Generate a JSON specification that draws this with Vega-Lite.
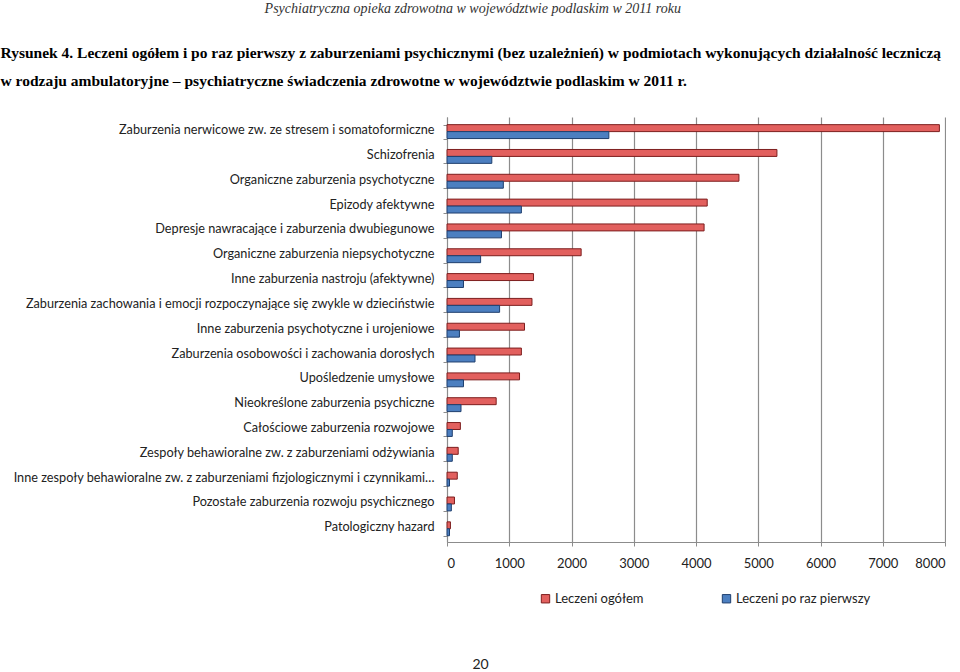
{
  "$schema": "https://vega.github.io/schema/vega-lite/v6.json",
  "width": 498,
  "height": 425,
  "padding": {"left": 0, "top": 2, "right": 0, "bottom": 0},
  "background": "white",
  "title": {
    "text": "Psychiatryczna opieka zdrowotna w województwie podlaskim w 2011 roku",
    "font": "Liberation Serif",
    "fontStyle": "italic",
    "fontWeight": "normal",
    "fontSize": 14,
    "color": "#333333",
    "anchor": "middle",
    "frame": "bounds",
    "offset": 29
  },
  "data": {
    "values": [
      {"cat": "Zaburzenia nerwicowe zw. ze stresem i somatoformiczne", "series": "Leczeni ogółem", "value": 7910},
      {"cat": "Zaburzenia nerwicowe zw. ze stresem i somatoformiczne", "series": "Leczeni po raz pierwszy", "value": 2600},
      {"cat": "Schizofrenia", "series": "Leczeni ogółem", "value": 5300},
      {"cat": "Schizofrenia", "series": "Leczeni po raz pierwszy", "value": 720},
      {"cat": "Organiczne zaburzenia psychotyczne", "series": "Leczeni ogółem", "value": 4690},
      {"cat": "Organiczne zaburzenia psychotyczne", "series": "Leczeni po raz pierwszy", "value": 905},
      {"cat": "Epizody afektywne", "series": "Leczeni ogółem", "value": 4180},
      {"cat": "Epizody afektywne", "series": "Leczeni po raz pierwszy", "value": 1195},
      {"cat": "Depresje nawracające i zaburzenia dwubiegunowe", "series": "Leczeni ogółem", "value": 4130},
      {"cat": "Depresje nawracające i zaburzenia dwubiegunowe", "series": "Leczeni po raz pierwszy", "value": 875},
      {"cat": "Organiczne zaburzenia niepsychotyczne", "series": "Leczeni ogółem", "value": 2155},
      {"cat": "Organiczne zaburzenia niepsychotyczne", "series": "Leczeni po raz pierwszy", "value": 540},
      {"cat": "Inne zaburzenia nastroju (afektywne)", "series": "Leczeni ogółem", "value": 1390},
      {"cat": "Inne zaburzenia nastroju (afektywne)", "series": "Leczeni po raz pierwszy", "value": 265},
      {"cat": "Zaburzenia zachowania i emocji rozpoczynające się zwykle w dzieciństwie", "series": "Leczeni ogółem", "value": 1365},
      {"cat": "Zaburzenia zachowania i emocji rozpoczynające się zwykle w dzieciństwie", "series": "Leczeni po raz pierwszy", "value": 845},
      {"cat": "Inne zaburzenia psychotyczne i urojeniowe", "series": "Leczeni ogółem", "value": 1245},
      {"cat": "Inne zaburzenia psychotyczne i urojeniowe", "series": "Leczeni po raz pierwszy", "value": 200},
      {"cat": "Zaburzenia osobowości i zachowania dorosłych", "series": "Leczeni ogółem", "value": 1195},
      {"cat": "Zaburzenia osobowości i zachowania dorosłych", "series": "Leczeni po raz pierwszy", "value": 450},
      {"cat": "Upośledzenie umysłowe", "series": "Leczeni ogółem", "value": 1165},
      {"cat": "Upośledzenie umysłowe", "series": "Leczeni po raz pierwszy", "value": 265},
      {"cat": "Nieokreślone zaburzenia psychiczne", "series": "Leczeni ogółem", "value": 790},
      {"cat": "Nieokreślone zaburzenia psychiczne", "series": "Leczeni po raz pierwszy", "value": 225},
      {"cat": "Całościowe zaburzenia rozwojowe", "series": "Leczeni ogółem", "value": 215},
      {"cat": "Całościowe zaburzenia rozwojowe", "series": "Leczeni po raz pierwszy", "value": 85},
      {"cat": "Zespoły behawioralne zw. z zaburzeniami odżywiania", "series": "Leczeni ogółem", "value": 180},
      {"cat": "Zespoły behawioralne zw. z zaburzeniami odżywiania", "series": "Leczeni po raz pierwszy", "value": 85},
      {"cat": "Inne zespoły behawioralne zw. z zaburzeniami fizjologicznymi i czynnikami fizycznymi", "series": "Leczeni ogółem", "value": 165},
      {"cat": "Inne zespoły behawioralne zw. z zaburzeniami fizjologicznymi i czynnikami fizycznymi", "series": "Leczeni po raz pierwszy", "value": 40},
      {"cat": "Pozostałe zaburzenia rozwoju psychicznego", "series": "Leczeni ogółem", "value": 120},
      {"cat": "Pozostałe zaburzenia rozwoju psychicznego", "series": "Leczeni po raz pierwszy", "value": 70},
      {"cat": "Patologiczny hazard", "series": "Leczeni ogółem", "value": 55},
      {"cat": "Patologiczny hazard", "series": "Leczeni po raz pierwszy", "value": 40}
    ]
  },
  "mark": {"type": "bar", "strokeWidth": 1},
  "encoding": {
    "y": {
      "field": "cat",
      "type": "nominal",
      "sort": null,
      "scale": {"paddingInner": 0.44, "paddingOuter": 0.28, "align": 0.55},
      "axis": {
        "title": [
          "Rysunek 4. Leczeni ogółem i po raz pierwszy z zaburzeniami psychicznymi (bez uzależnień) w podmiotach wykonujących działalność leczniczą",
          "w rodzaju ambulatoryjne – psychiatryczne świadczenia zdrowotne w województwie podlaskim w 2011 r."
        ],
        "titleAngle": 0,
        "titleAlign": "left",
        "titleBaseline": "top",
        "titleX": -447,
        "titleY": -72,
        "titleFont": "Liberation Serif",
        "titleFontSize": 15.5,
        "titleFontWeight": "bold",
        "titleLineHeight": 28,
        "titleColor": "#000000",
        "labelFont": "Lato",
        "labelFontSize": 12.7,
        "labelColor": "#222222",
        "labelLimit": 424,
        "labelPadding": 9,
        "labelOffset": -2,
        "tickBand": "extent",
        "tickSize": 4,
        "tickColor": "#8c8c8c",
        "domainColor": "#8c8c8c"
      }
    },
    "yOffset": {
      "field": "series",
      "type": "nominal",
      "sort": ["Leczeni ogółem", "Leczeni po raz pierwszy"]
    },
    "x": {
      "field": "value",
      "type": "quantitative",
      "scale": {"domain": [0, 8000], "nice": false},
      "axis": {
        "values": [0, 1000, 2000, 3000, 4000, 5000, 6000, 7000, 8000],
        "format": "d",
        "grid": true,
        "gridColor": "#8c8c8c",
        "gridWidth": 1.2,
        "domainColor": "#8c8c8c",
        "tickColor": "#8c8c8c",
        "tickSize": 4,
        "labelPadding": 11,
        "labelFont": "Lato",
        "labelFontSize": 13,
        "labelColor": "#222222",
        "title": "20",
        "titleFont": "Lato",
        "titleFontSize": 14,
        "titleFontWeight": "normal",
        "titleColor": "#222222",
        "titleX": 33,
        "titleY": 115,
        "titleBaseline": "top"
      }
    },
    "fill": {
      "field": "series",
      "type": "nominal",
      "scale": {"domain": ["Leczeni ogółem", "Leczeni po raz pierwszy"], "range": ["#e2605e", "#4c7fc0"]},
      "legend": {
        "orient": "none",
        "legendX": 92,
        "legendY": 475,
        "direction": "horizontal",
        "title": null,
        "symbolType": "square",
        "symbolSize": 70,
        "symbolStrokeWidth": 1,
        "labelFont": "Lato",
        "labelFontSize": 13,
        "labelColor": "#222222",
        "labelOffset": 3,
        "columnPadding": 76
      }
    },
    "stroke": {
      "field": "series",
      "type": "nominal",
      "scale": {"domain": ["Leczeni ogółem", "Leczeni po raz pierwszy"], "range": ["#7d1e1e", "#1f3f6e"]},
      "legend": null
    }
  },
  "config": {
    "view": {"stroke": null}
  }
}
